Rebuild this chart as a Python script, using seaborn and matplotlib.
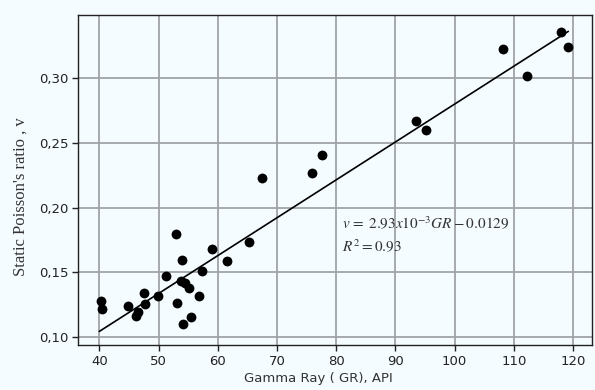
import matplotlib
matplotlib.use("Agg")
import matplotlib.pyplot as plt
import seaborn as sns
import numpy as np
import pandas as pd

gr = [40.2, 40.4, 44.8, 46.2, 46.5, 47.6, 47.7, 49.9, 51.3, 53.0, 53.1, 53.9, 53.8,
      54.5, 55.1, 54.2, 55.5, 56.8, 57.4, 59.1, 61.6, 65.2, 67.5, 76.0, 77.6, 93.5,
      95.2, 108.2, 112.3, 117.9, 119.2]
poisson = [0.128, 0.122, 0.124, 0.116, 0.119, 0.134, 0.1255, 0.132, 0.147, 0.180,
           0.126, 0.1595, 0.143, 0.1415, 0.1376, 0.110, 0.1157, 0.132, 0.151, 0.168,
           0.1587, 0.1737, 0.2227, 0.2265, 0.2404, 0.2667, 0.260, 0.3228, 0.3017,
           0.3357, 0.3241]
slope = 2.93e-3
intercept = -0.0129
fit_range = [40.0, 119.2]
xticks = [40, 50, 60, 70, 80, 90, 100, 110, 120]
yticks = [0.10, 0.15, 0.20, 0.25, 0.30]
ytick_labels = ["0,10", "0,15", "0,20", "0,25", "0,30"]

sns.set_theme(style="whitegrid")
plt.rcParams['font.family'] = ['DejaVu Sans']
plt.rcParams['mathtext.fontset'] = 'stix'

bg = "#F5FCFF"
fig = plt.figure(figsize=(5.95, 3.9), dpi=100, facecolor=bg)
ax = fig.add_axes([78/595, 1-345/390, (592-78)/595, (345-15)/390])
ax.set_facecolor(bg)

df = pd.DataFrame({"GR": gr, "v": poisson})
sns.scatterplot(data=df, x="GR", y="v", ax=ax, color="black", s=50,
                edgecolor="black", linewidth=0, zorder=3)

fx = np.array(fit_range)
fit_df = pd.DataFrame({"GR": fx, "v": slope * fx + intercept})
sns.lineplot(data=fit_df, x="GR", y="v", ax=ax, color="black", linewidth=1.2, zorder=2)

ax.set_xlim(36.4, 123.2)
ax.set_ylim(0.0938, 0.349)
ax.set_xticks(xticks)
ax.set_yticks(yticks)
ax.set_yticklabels(ytick_labels)
ax.tick_params(axis="both", labelsize=9.5, colors="#222222", length=4, width=1,
               direction="out", left=True, bottom=True, pad=3)
ax.grid(True, color="#A0A4A6", linewidth=1.3)
for s in ax.spines.values():
    s.set_color("#222222")
    s.set_linewidth(1.0)

ax.set_xlabel("Gamma Ray ( GR), API", fontsize=9.5, color="#333333")
ax.set_ylabel("Static Poisson's ratio , v", fontsize=12, color="#333333",
              family="Liberation Serif")
ax.xaxis.set_label_coords(0.467, -0.082)
ax.yaxis.set_label_coords(-0.097, 0.45)

ax.text(80.9, 0.188, r"$v\,=\;2.93x10^{-3}GR-0.0129$", fontsize=11,
        color="#333333", va="center", ha="left")
ax.text(80.9, 0.1696, r"$R^2=0.93$", fontsize=11, color="#333333",
        va="center", ha="left")

fig.savefig("out.png", dpi=100, facecolor=bg)
